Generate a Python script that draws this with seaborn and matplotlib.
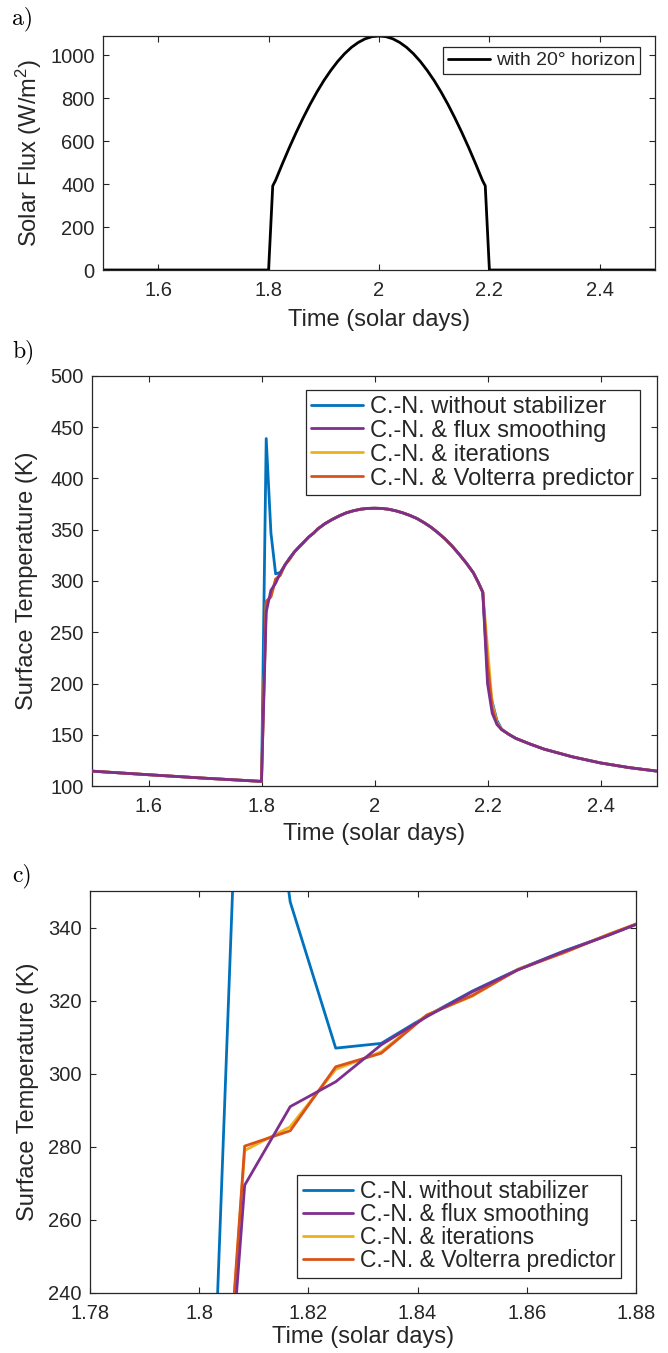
import numpy as np
import pandas as pd
import matplotlib
matplotlib.use("Agg")
import matplotlib.pyplot as plt
import seaborn as sns

# ---------------- data ----------------
# panel a: solar flux (W/m^2) with 20 deg horizon
t_flux = [1.5, 1.8, 1.8075, 1.8125, 1.825, 1.8375, 1.85, 1.8625, 1.875, 1.8875,
          1.9, 1.9125, 1.925, 1.9375, 1.95, 1.9625, 1.975, 1.9875, 2.0,
          2.0125, 2.025, 2.0375, 2.05, 2.0625, 2.075, 2.0875, 2.1, 2.1125,
          2.125, 2.1375, 2.15, 2.1625, 2.175, 2.1875, 2.1925, 2.2, 2.5]
flux = [0, 0, 392, 417, 495, 570, 641, 708, 771, 829,
        882, 929, 971, 1007, 1037, 1060, 1077, 1087, 1090,
        1087, 1077, 1060, 1037, 1007, 971, 929, 882, 829,
        771, 708, 641, 570, 495, 417, 392, 0, 0]

# panel b/c: surface temperature (K)
t_pre = [1.5, 1.6, 1.7]
T_pre = [114.5, 111.0, 107.6]

t_dawn = [1.8, 1.80833, 1.81667, 1.825, 1.83333, 1.84167, 1.85, 1.85833,
          1.86667, 1.875, 1.88333]
T_dawn_plain = [104.5, 439.0, 347.0, 307.0, 308.3, 315.8, 322.6, 328.5, 333.5, 338.0, 342.8]
T_dawn_smooth = [104.5, 269.5, 291.0, 297.8, 307.9, 315.6, 322.4, 328.4, 333.4, 337.9, 342.8]
T_dawn_iter = [104.5, 279.0, 285.5, 301.2, 306.0, 316.1, 321.2, 328.6, 333.0, 338.2, 342.8]
T_dawn_volt = [104.5, 280.2, 284.4, 301.9, 305.6, 316.0, 321.4, 328.4, 333.1, 338.1, 342.8]

t_day = [1.89167, 1.9, 1.9125, 1.925, 1.9375, 1.95, 1.9625, 1.975, 1.9875, 2.0,
         2.0125, 2.025, 2.0375, 2.05, 2.0625, 2.075, 2.0875, 2.1, 2.1125, 2.125,
         2.1375, 2.15, 2.1625, 2.175, 2.18333, 2.19167]
T_day = [346.5, 351.0, 356.0, 360.0, 363.5, 366.5, 368.5, 370.0, 370.8, 371.0,
         370.8, 370.0, 368.5, 366.5, 364.0, 361.0, 357.0, 352.5, 347.0, 341.0,
         334.0, 326.0, 317.5, 308.0, 299.0, 289.0]

t_dusk = [2.2, 2.20833, 2.21667, 2.225]
T_dusk_plain = [210.0, 182.0, 164.0, 155.5]
T_dusk_smooth = [200.0, 171.0, 160.0, 155.0]
T_dusk_iter = [235.0, 180.0, 162.0, 155.5]
T_dusk_volt = [220.0, 176.0, 161.0, 155.0]

t_night = [2.2375, 2.25, 2.275, 2.3, 2.35, 2.4, 2.45, 2.5]
T_night = [150.5, 146.5, 141.0, 136.0, 128.5, 122.5, 118.0, 114.5]

labels = ["C.-N. without stabilizer", "C.-N. & flux smoothing",
          "C.-N. & iterations", "C.-N. & Volterra predictor"]
colors = ["#0072BD", "#7E2F8E", "#EDB120", "#D95319"]
dawn_sets = [T_dawn_plain, T_dawn_smooth, T_dawn_iter, T_dawn_volt]
dusk_sets = [T_dusk_plain, T_dusk_smooth, T_dusk_iter, T_dusk_volt]
zorders = [2, 5, 3, 4]

t_all = t_pre + t_dawn + t_day + t_dusk + t_night
frames = []
for lab, dwn, dsk in zip(labels, dawn_sets, dusk_sets):
    T_all = T_pre + dwn + T_day + dsk + T_night
    frames.append(pd.DataFrame({"t": t_all, "T": T_all, "method": lab}))
df_T = pd.concat(frames, ignore_index=True)
df_flux = pd.DataFrame({"t": t_flux, "flux": flux})

# ---------------- style ----------------
sns.set_style("ticks")
plt.rcParams["font.family"] = ["Liberation Sans", "DejaVu Sans"]
plt.rcParams["mathtext.fontset"] = "custom"
plt.rcParams["mathtext.rm"] = "Liberation Sans"
plt.rcParams["mathtext.it"] = "Liberation Sans:italic"
DARK = "#262626"
TICK_FS = 14.5
LAB_FS = 17

W, H = 668, 1353
fig = plt.figure(figsize=(W / 100, H / 100), dpi=100)


def ax_from_px(l, r, t, b):
    return fig.add_axes([l / W, 1 - b / H, (r - l) / W, (b - t) / H])


axa = ax_from_px(103, 655, 36, 270)
axb = ax_from_px(92, 657, 376, 786)
axc = ax_from_px(90, 636, 891, 1293)


def style(ax):
    for s in ax.spines.values():
        s.set_visible(True)
        s.set_color(DARK)
        s.set_linewidth(0.9)
    ax.tick_params(direction="in", top=True, right=True, length=4, width=0.8,
                   colors=DARK, labelsize=TICK_FS)
    ax.tick_params(axis="x", pad=8)
    ax.tick_params(axis="y", pad=6)


def legend(ax, handles, labs, loc, anchor, fs, hl, ls):
    lg = ax.legend(handles, labs, loc=loc, bbox_to_anchor=anchor, fontsize=fs,
                   frameon=True, fancybox=False, edgecolor=DARK, framealpha=1,
                   handlelength=hl, handletextpad=0.28, borderpad=0.25,
                   labelspacing=ls, borderaxespad=0)
    lg.get_frame().set_linewidth(0.9)
    return lg


# panel a
sns.lineplot(data=df_flux, x="t", y="flux", ax=axa, color="black", linewidth=2.0,
             sort=False, estimator=None, legend=False)
axa.set_xlim(1.5, 2.5)
axa.set_ylim(0, 1090)
axa.set_xticks([1.6, 1.8, 2.0, 2.2, 2.4])
axa.set_xticklabels(["1.6", "1.8", "2", "2.2", "2.4"])
axa.set_yticks([0, 200, 400, 600, 800, 1000])
axa.set_xlabel("Time (solar days)", fontsize=LAB_FS, color=DARK)
axa.set_ylabel("Solar Flux (W/m$^2$)", fontsize=LAB_FS, color=DARK)
style(axa)
legend(axa, [axa.get_lines()[-1]], ["with 20° horizon"], "upper right",
       (0.9728, 0.953), 14, 2.2, 0.15)


def temp_panel(ax):
    handles = []
    for lab, col, z in zip(labels, colors, zorders):
        sub = df_T[df_T["method"] == lab]
        sns.lineplot(data=sub, x="t", y="T", ax=ax, color=col, linewidth=2.0,
                     sort=False, estimator=None, legend=False, zorder=z)
        handles.append(ax.get_lines()[-1])
    ax.set_xlabel("Time (solar days)", fontsize=LAB_FS, color=DARK)
    ax.set_ylabel("Surface Temperature (K)", fontsize=LAB_FS, color=DARK)
    return handles


hb = temp_panel(axb)
axb.set_xlim(1.5, 2.5)
axb.set_ylim(100, 500)
axb.set_xticks([1.6, 1.8, 2.0, 2.2, 2.4])
axb.set_xticklabels(["1.6", "1.8", "2", "2.2", "2.4"])
axb.set_yticks(list(range(100, 501, 50)))
style(axb)
legend(axb, hb, labels, "upper right", (0.970, 0.966), 17, 2.2, 0.08)

hc = temp_panel(axc)
axc.set_xlim(1.78, 1.88)
axc.set_ylim(240, 350)
axc.set_xticks([1.78, 1.80, 1.82, 1.84, 1.86, 1.88])
axc.set_xticklabels(["1.78", "1.8", "1.82", "1.84", "1.86", "1.88"])
axc.set_yticks([240, 260, 280, 300, 320, 340])
style(axc)
legend(axc, hc, labels, "lower right", (0.9725, 0.0373), 16.5, 2.2, 0.0)

for ax, lx, ly in [(axa, -0.107, -0.167), (axb, -0.096, -0.09), (axc, -0.093, -0.082)]:
    ax.yaxis.set_label_coords(lx, 0.5)
    ax.xaxis.set_label_coords(0.5, ly)

for txt, ypx in [("a)", 19), ("b)", 352), ("c)", 876)]:
    fig.text(12 / W, 1 - ypx / H, txt, family="cmr10", fontsize=17, color="black",
             va="center", ha="left")

fig.savefig("out.png", dpi=100)
